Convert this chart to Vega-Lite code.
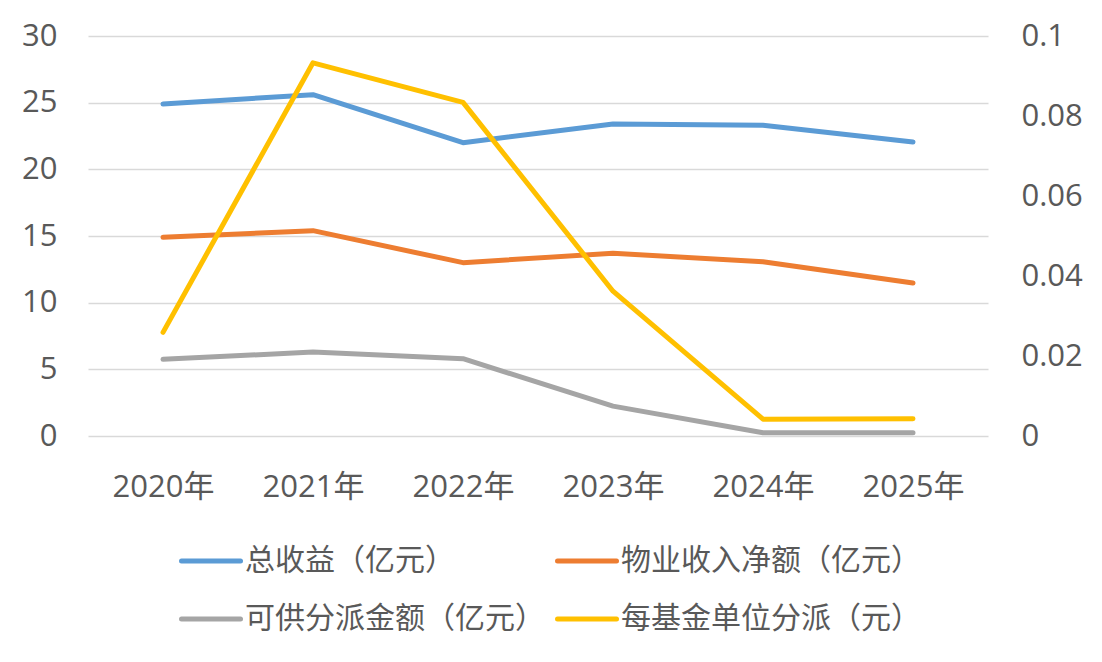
{
  "$schema": "https://vega.github.io/schema/vega-lite/v6.json",
  "width": 900,
  "height": 400,
  "autosize": {"type": "none"},
  "padding": {"left": 88, "top": 36, "right": 114, "bottom": 226},
  "background": "white",
  "config": {
    "font": "'Open Sans', 'Noto Sans CJK SC'",
    "view": {"stroke": null},
    "axis": {
      "labelColor": "#595959",
      "labelFontSize": 31,
      "labelFont": "'Open Sans', 'Noto Sans CJK SC'",
      "domain": false,
      "ticks": false,
      "title": null
    }
  },
  "data": {
    "values": [
      {"year": "2020年", "series": "总收益（亿元）", "value": 24.9},
      {"year": "2021年", "series": "总收益（亿元）", "value": 25.6},
      {"year": "2022年", "series": "总收益（亿元）", "value": 22.0},
      {"year": "2023年", "series": "总收益（亿元）", "value": 23.4},
      {"year": "2024年", "series": "总收益（亿元）", "value": 23.3},
      {"year": "2025年", "series": "总收益（亿元）", "value": 22.05},
      {"year": "2020年", "series": "物业收入净额（亿元）", "value": 14.9},
      {"year": "2021年", "series": "物业收入净额（亿元）", "value": 15.4},
      {"year": "2022年", "series": "物业收入净额（亿元）", "value": 13.0},
      {"year": "2023年", "series": "物业收入净额（亿元）", "value": 13.7},
      {"year": "2024年", "series": "物业收入净额（亿元）", "value": 13.07},
      {"year": "2025年", "series": "物业收入净额（亿元）", "value": 11.47},
      {"year": "2020年", "series": "可供分派金额（亿元）", "value": 5.75},
      {"year": "2021年", "series": "可供分派金额（亿元）", "value": 6.3},
      {"year": "2022年", "series": "可供分派金额（亿元）", "value": 5.8},
      {"year": "2023年", "series": "可供分派金额（亿元）", "value": 2.24},
      {"year": "2024年", "series": "可供分派金额（亿元）", "value": 0.25},
      {"year": "2025年", "series": "可供分派金额（亿元）", "value": 0.25},
      {"year": "2020年", "series": "每基金单位分派（元）", "value": 0.0259},
      {"year": "2021年", "series": "每基金单位分派（元）", "value": 0.0933},
      {"year": "2022年", "series": "每基金单位分派（元）", "value": 0.0834},
      {"year": "2023年", "series": "每基金单位分派（元）", "value": 0.0362},
      {"year": "2024年", "series": "每基金单位分派（元）", "value": 0.0042},
      {"year": "2025年", "series": "每基金单位分派（元）", "value": 0.0043}
    ]
  },
  "encoding": {
    "x": {
      "field": "year",
      "type": "ordinal",
      "scale": {"type": "point", "padding": 0.5},
      "axis": {"labelAngle": 0, "labelPadding": 36, "grid": false}
    },
    "color": {
      "field": "series",
      "type": "nominal",
      "scale": {
        "domain": ["总收益（亿元）", "物业收入净额（亿元）", "可供分派金额（亿元）", "每基金单位分派（元）"],
        "range": ["#5B9BD5", "#ED7D31", "#A5A5A5", "#FFC000"]
      },
      "legend": {
        "title": null,
        "orient": "none",
        "legendX": 91,
        "legendY": 493,
        "direction": "horizontal",
        "columns": 2,
        "columnPadding": 2,
        "rowPadding": 11,
        "symbolType": "stroke",
        "symbolSize": 3481,
        "symbolStrokeWidth": 5,
        "labelFont": "Noto Sans CJK SC",
        "labelFontSize": 30,
        "labelColor": "#595959",
        "labelOffset": 2,
        "labelLimit": 0,
        "encode": {
          "symbols": {"update": {"strokeCap": {"value": "round"}}}
        }
      }
    }
  },
  "layer": [
    {
      "transform": [{"filter": "datum.series !== '每基金单位分派（元）'"}],
      "mark": {"type": "line", "strokeWidth": 5, "strokeCap": "round", "strokeJoin": "round"},
      "encoding": {
        "y": {
          "field": "value",
          "type": "quantitative",
          "scale": {"domain": [0, 30]},
          "axis": {
            "values": [0, 5, 10, 15, 20, 25, 30],
            "labelPadding": 31,
            "grid": true,
            "gridColor": "#D9D9D9",
            "gridWidth": 1.5
          }
        }
      }
    },
    {
      "transform": [{"filter": "datum.series === '每基金单位分派（元）'"}],
      "mark": {"type": "line", "strokeWidth": 5, "strokeCap": "round", "strokeJoin": "round"},
      "encoding": {
        "y": {
          "field": "value",
          "type": "quantitative",
          "scale": {"domain": [0, 0.1]},
          "axis": {
            "orient": "right",
            "values": [0, 0.02, 0.04, 0.06, 0.08, 0.1],
            "format": "~g",
            "labelPadding": 33,
            "grid": false
          }
        }
      }
    }
  ],
  "resolve": {"scale": {"y": "independent"}}
}
